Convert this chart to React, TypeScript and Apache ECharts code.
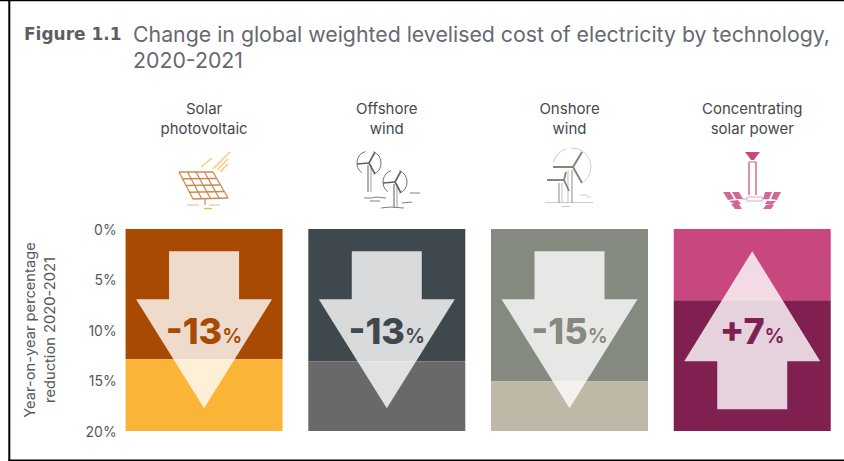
import React, { useEffect, useRef } from "react";
import * as echarts from "echarts";

const categories = ["Solar\nphotovoltaic", "Offshore\nwind", "Onshore\nwind", "Concentrating\nsolar power"];
const upperBand = [12.9, 13.1, 15.1, 7.05];
const lowerBand = [7.1, 6.9, 4.9, 12.95];
const changes = [-13, -13, -15, 7];
const upperColors = ["#A94A02", "#3F494D", "#858A80", "#C8477F"];
const lowerColors = ["#FBB536", "#69696B", "#BFB8A6", "#7F2050"];

const FONT = "Inter";
const GREY = "#5b5f64";

type P = number[];
const line = (points: P[], stroke: string, lineWidth = 1, opacity = 1) => ({
  type: "polyline",
  silent: true,
  shape: { points },
  style: { stroke, lineWidth, fill: "none", opacity },
});
const poly = (points: P[], fill: string, opacity = 1) => ({
  type: "polygon",
  silent: true,
  shape: { points },
  style: { fill, opacity },
});
const arcLine = (cx: number, cy: number, r: number, a0: number, a1: number, stroke: string, w = 1, opacity = 1) => ({
  type: "arc",
  silent: true,
  shape: { cx, cy, r, startAngle: a0, endAngle: a1, clockwise: true },
  style: { stroke, lineWidth: w, fill: "none", opacity },
});

function solarIcon() {
  const c = "#C98A4E";
  const out: any[] = [];
  const TL = [179, 172], TR = [213, 172], BR = [228, 198], BL = [193, 199];
  const lerp = (a: P, b: P, t: number) => [a[0] + (b[0] - a[0]) * t, a[1] + (b[1] - a[1]) * t];
  for (let i = 0; i <= 4; i++) out.push(line([lerp(TL, TR, i / 4), lerp(BL, BR, i / 4)], c, 1.3));
  for (let i = 0; i <= 4; i++) out.push(line([lerp(TL, BL, i / 4), lerp(TR, BR, i / 4)], c, 1.3));
  const ray = "#FBC56E";
  out.push(line([[201, 167], [212, 158]], ray, 1.3));
  out.push(line([[213, 169], [230, 152]], ray, 1.3));
  out.push(line([[217, 170], [228, 159]], ray, 1.3));
  out.push(line([[220, 172], [228, 164]], ray, 1.3));
  out.push(line([[205, 199], [205, 205]], c, 1.2));
  out.push(line([[187, 205], [199, 205]], "#EBC9A8", 1.3));
  out.push(line([[209, 205], [220, 205]], "#EBC9A8", 1.3));
  out.push(line([[204, 208.5], [212, 208.5]], "#FBB536", 1.4));
  return out;
}

function offshoreTurbine(hx: number, hy: number, bottom: number) {
  const c = "#5d6366";
  return [
    line([[hx - 1, hy + 2], [hx - 1, bottom]], c, 1),
    line([[hx + 2, hy + 2], [hx + 2, bottom]], "#9aa0a2", 1),
    line([[hx, hy], [hx - 12, hy + 1]], c, 1.6),
    line([[hx, hy], [hx + 6, hy - 11]], c, 1.6),
    line([[hx, hy], [hx + 6, hy + 11]], c, 1.6),
    arcLine(hx, hy, 12, -1.2, 1.2, "#6e7477", 1),
    arcLine(hx, hy, 12, 2.2, 4.4, "#6e7477", 1),
  ];
}

function windOffshoreIcon() {
  const w = "#7b8184";
  return [
    ...offshoreTurbine(369, 163, 192),
    ...offshoreTurbine(395, 182, 208),
    line([[364, 198], [372, 198], [376, 197], [386, 198]], w, 1),
    line([[370, 201], [380, 201]], w, 1),
    line([[381, 208], [391, 207], [404, 208]], w, 1),
    line([[402, 203], [412, 202]], w, 1),
    line([[410, 193], [420, 193]], w, 1),
  ];
}

function windOnshoreIcon() {
  const c = "#7f887c";
  const light = "#c9cdc3";
  return [
    line([[545, 202.5], [593, 202.5]], light, 1.2),
    line([[573, 167], [553, 167]], c, 2),
    line([[573, 167], [582, 152]], c, 2),
    line([[573, 167], [582, 183]], c, 2),
    line([[572, 170], [572, 203]], "#9aa296", 1.2),
    line([[568, 170], [568, 203]], light, 1.2),
    line([[564, 180], [547, 180]], c, 2),
    line([[564, 180], [566, 172]], c, 1.8),
    line([[564, 180], [569, 191]], c, 1.8),
    line([[559, 183], [559, 203]], "#9aa296", 1.2),
    line([[562, 183], [562, 203]], light, 1.2),
    arcLine(572, 167, 19, -1.6, 0.9, light, 1),
    arcLine(572, 167, 19, 3.4, 4.4, light, 1),
    line([[580, 195], [586, 195], [590, 198]], light, 1),
    line([[562, 206.5], [570, 206.5]], light, 1),
  ];
}

function cspIcon() {
  const c = "#D2608F";
  const d = "#C8477F";
  const out: any[] = [
    poly([[745, 152], [760, 152], [756, 157], [754, 160], [751, 160], [749, 157]], d),
    line([[749, 162], [749, 195]], c, 1.4),
    line([[756, 162], [756, 195]], c, 1.4),
    line([[749, 162], [756, 162]], c, 1),
    line([[747, 197], [762, 197], [762, 201], [747, 201], [747, 197]], "#E7A9C4", 1),
    line([[742, 199], [747, 199]], "#E7A9C4", 1),
    line([[762, 199], [768, 199]], "#E7A9C4", 1),
  ];
  const cells: P[][] = [
    [[723, 192], [730, 192], [734, 199], [728, 200]],
    [[732, 192], [739, 192], [743, 199], [736, 199]],
    [[729, 201], [738, 200], [741, 204], [734, 204]],
    [[731, 204], [739, 204], [742, 209], [735, 209]],
    [[774, 192], [781, 192], [777, 200], [771, 199]],
    [[765, 192], [772, 192], [769, 199], [763, 199]],
    [[767, 201], [776, 201], [772, 205], [765, 204]],
    [[766, 205], [774, 205], [771, 209], [763, 209]],
  ];
  cells.forEach((pts) => out.push(poly(pts, d, 0.82)));
  return out;
}

export default function App() {
  const ref = useRef<HTMLDivElement>(null);
  useEffect(() => {
    const chart = echarts.init(ref.current!, undefined, { renderer: "svg" });
    const arrowItem = (params: any, api: any) => {
      const i = params.dataIndex;
      const idx = api.value(0);
      const change = changes[i];
      const cx = api.coord([idx, 0])[0];
      const y = (v: number) => api.coord([idx, v])[1];
      const shaft = 35;
      const head = 68;
      const pts =
        change < 0
          ? [
              [cx - shaft, y(2.2)], [cx + shaft, y(2.2)], [cx + shaft, y(6.95)], [cx + head, y(6.95)],
              [cx, y(17.75)], [cx - head, y(6.95)], [cx - shaft, y(6.95)],
            ]
          : [
              [cx, y(2.2)], [cx + head, y(13.1)], [cx + shaft, y(13.1)], [cx + shaft, y(17.85)],
              [cx - shaft, y(17.85)], [cx - shaft, y(13.1)], [cx - head, y(13.1)],
            ];
      const color = change < 0 ? upperColors[i] : lowerColors[i];
      const sign = change < 0 ? "-" : "+";
      return {
        type: "group",
        children: [
          { type: "polygon", shape: { points: pts }, style: { fill: "#ffffff", opacity: 0.8 } },
          {
            type: "text",
            style: {
              x: cx,
              y: y(10.1),
              align: "center",
              verticalAlign: "middle",
              text: `{n|${sign}${Math.abs(change)}}{p|%}`,
              rich: {
                n: { fontFamily: FONT, fontWeight: 800, fontSize: 36, fill: color, textFill: color, verticalAlign: "bottom" },
                p: { fontFamily: FONT, fontWeight: 600, fontSize: 20, fill: color, textFill: color, verticalAlign: "bottom", padding: [0, 0, 3, 0] },
              },
            },
          },
        ],
      };
    };

    chart.setOption({
      animation: false,
      title: [
        {
          text: "Figure 1.1",
          left: 19,
          top: 20,
          textStyle: { fontFamily: "DejaVu Sans", fontSize: 17, fontWeight: 700, color: GREY },
        },
        {
          text: "Change in global weighted levelised cost of electricity by technology,\n2020-2021",
          left: 128,
          top: 16,
          textStyle: { fontFamily: FONT, fontSize: 21.3, fontWeight: 400, color: "#666a70", lineHeight: 26 },
        },
      ],
      grid: { left: 112.7, right: 0.4, top: 229, bottom: 30 },
      xAxis: {
        type: "category",
        position: "top",
        data: categories,
        axisLine: { show: false },
        axisTick: { show: false },
        axisLabel: { margin: 91, fontFamily: FONT, fontSize: 15, color: "#45494d", lineHeight: 20, interval: 0 },
      },
      yAxis: {
        type: "value",
        inverse: true,
        min: 0,
        max: 20,
        interval: 5,
        name: "Year-on-year percentage\nreduction 2020-2021",
        nameLocation: "middle",
        nameRotate: 90,
        nameGap: 53,
        nameTextStyle: { fontFamily: FONT, fontSize: 14.7, color: "#55595d", lineHeight: 20 },
        axisLine: { show: false },
        axisTick: { show: false },
        splitLine: { show: false },
        axisLabel: { margin: -4, formatter: "{value}%", fontFamily: FONT, fontSize: 14, color: "#55595d" },
      },
      series: [
        {
          type: "bar",
          stack: "panel",
          barWidth: 157,
          data: upperBand.map((v, i) => ({ value: v, itemStyle: { color: upperColors[i] } })),
        },
        {
          type: "bar",
          stack: "panel",
          barWidth: 157,
          data: lowerBand.map((v, i) => ({ value: v, itemStyle: { color: lowerColors[i] } })),
        },
        {
          type: "custom",
          renderItem: arrowItem,
          encode: { x: 0, y: 1 },
          data: changes.map((c, i) => [i, Math.abs(c)]),
          z: 5,
        },
      ],
      graphic: [
        { type: "rect", silent: true, shape: { x: 0, y: 0, width: 844, height: 1.2 }, style: { fill: "#000" } },
        { type: "rect", silent: true, shape: { x: 8.3, y: 0, width: 2, height: 461 }, style: { fill: "#000" } },
        { type: "rect", silent: true, shape: { x: 8.3, y: 459.4, width: 836, height: 1.6 }, style: { fill: "#000" } },
        { type: "group", children: [...solarIcon(), ...windOffshoreIcon(), ...windOnshoreIcon(), ...cspIcon()] },
      ],
    });
    return () => chart.dispose();
  }, []);
  return <div ref={ref} style={{ position: "absolute", left: 0, top: 0, width: 844, height: 461, background: "#fff" }} />;
}
